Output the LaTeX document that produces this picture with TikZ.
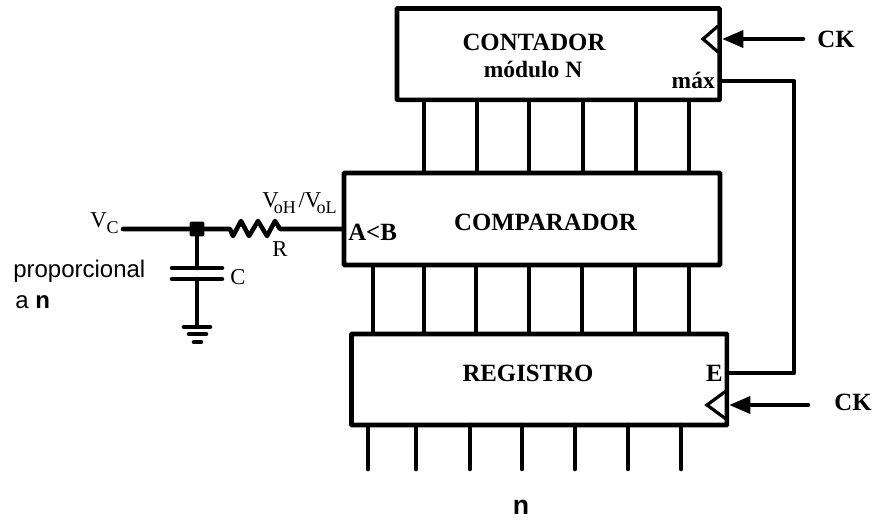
\documentclass[tikz,border=0pt]{standalone}
\usepackage{fontspec}
\setmainfont{Liberation Serif}
\newfontfamily\arialf{Liberation Sans}
\usetikzlibrary{arrows.meta}
\newcommand{\subsz}[1]{\raisebox{-4.5pt}{\fontsize{13.5}{15}\selectfont #1}}
\tikzset{
  wire/.style={line width=3.4pt,line cap=round,line join=round},
  thinwire/.style={line width=2.4pt,line join=miter},
  blockbox/.style={draw,line width=3.4pt,rounded corners=0.5pt,inner sep=0pt,outer sep=0pt,anchor=north west},
  blocklabel/.style={font=\fontsize{18.6}{20}\selectfont\bfseries,inner sep=0pt},
  plainlabel/.style={font=\fontsize{17}{19}\selectfont,inner sep=0pt},
  sanslabel/.style={font=\arialf\fontsize{18}{20}\selectfont,inner sep=0pt},
  arrowwire/.style={wire,-{Triangle[length=16pt,width=12.5pt]}},
}
\begin{document}
\begin{tikzpicture}[x=0.75pt,y=-0.75pt]
\useasboundingbox (0,0) rectangle (873,519);
% blocks
\node[blockbox,minimum width=241.9pt,minimum height=68.6pt] (contador) at (397,8.5) {};
\node[blockbox,minimum width=282pt,minimum height=69pt] (comparador) at (344,173) {};
\node[blockbox,minimum width=281.6pt,minimum height=68.25pt] (registro) at (351.5,334) {};
% buses
\foreach \x in {424,477,529,583,636,689}
  \draw[wire,line cap=butt] (\x,0 |- contador.south) -- (\x,0 |- comparador.north);
\foreach \x in {373,424,476,529,582,635,689}
  \draw[wire,line cap=butt] (\x,0 |- comparador.south) -- (\x,0 |- registro.north);
\foreach \x in {368,416,470,522,575,628,681}
  \draw[wire] (\x,0 |- registro.south) -- (\x,469);
% block labels
\node[blocklabel] (tcont) at (534,42) {CONTADOR};
\node[blocklabel,font=\fontsize{17.6}{19}\selectfont\bfseries,anchor=base] (tmod) at (533,77) {módulo N};
\node[blocklabel,font=\fontsize{17.6}{19}\selectfont\bfseries,anchor=base east] (tmax) at (715,88) {máx};
\node[blocklabel] (tcomp) at (545.5,222) {COMPARADOR};
\node[blocklabel] (treg) at (528,373) {REGISTRO};
\node[blocklabel,anchor=west] (tab) at (348,232) {A<B};
\node[blocklabel] (te) at (714.5,373) {E};
\node[blocklabel] (tck1) at (836,39) {CK};
\node[blocklabel] (tck2) at (853,402) {CK};
% clock triangles
\coordinate (ct1) at (718,26); \coordinate (ct2) at (703,39); \coordinate (ct3) at (718,52);
\draw[thinwire] (ct1) -- (ct2) -- (ct3);
\coordinate (rt1) at (726,391); \coordinate (rt2) at (707,405); \coordinate (rt3) at (726,419);
\draw[thinwire] (rt1) -- (rt2) -- (rt3);
% clock inputs
\coordinate (ckin1) at (803,39); \coordinate (ckend1) at (722,39);
\coordinate (ckin2) at (808,405); \coordinate (ckend2) at (729,405);
\draw[arrowwire] (ckin1) -- (ckend1);
\draw[arrowwire] (ckin2) -- (ckend2);
% max to E
\coordinate (maxout) at (720,81); \coordinate (enin) at (727,373);
\draw[wire] (maxout) -- (794,81) -- (794,373) -- (enin);
% RC network
\coordinate (vcin) at (123,229);
\node[fill,rounded corners=1pt,minimum size=11pt,inner sep=0pt] (junction) at (197,229) {};
\coordinate (rin) at (230,229); \coordinate (rout) at (280,229);
\coordinate (abin) at (344,229);
\draw[wire] (vcin) -- (junction) -- (rin)
  -- (233,236) -- (241,221) -- (249,236) -- (258,221) -- (267,236) -- (275,221) -- (rout) -- (abin);
\coordinate (capa) at (197,268); \coordinate (capb) at (197,279); \coordinate (gnd) at (197,327);
\draw[wire] (junction) -- (capa);
\draw[wire] (capb) -- (gnd);
\draw[wire] (172,268) -- (222,268);
\draw[wire] (172,279) -- (222,279);
\draw[wire] (184,327) -- (210,327);
\draw[wire] (189,334) -- (206,334);
\draw[wire] (194,342) -- (201,342);
% circuit labels
\node[plainlabel,anchor=base west] (tvc) at (90,227) {V\subsz{C}};
\node[plainlabel,anchor=base west] (tv) at (262,207) {V\kern-3.5pt\subsz{oH}\kern2pt/V\kern-3.5pt\subsz{oL}};
\node[plainlabel] (tr) at (280,249) {R};
\node[plainlabel] (tc) at (238,277) {C};
\node[sanslabel,anchor=base west] (tp) at (13,277) {proporcional};
\node[sanslabel,anchor=base west] (ta) at (15,308) {a \textbf{n}};
\node[sanslabel,font=\arialf\fontsize{20}{22}\selectfont\bfseries,anchor=base] (tn) at (521,514) {n};
\end{tikzpicture}
\end{document}
